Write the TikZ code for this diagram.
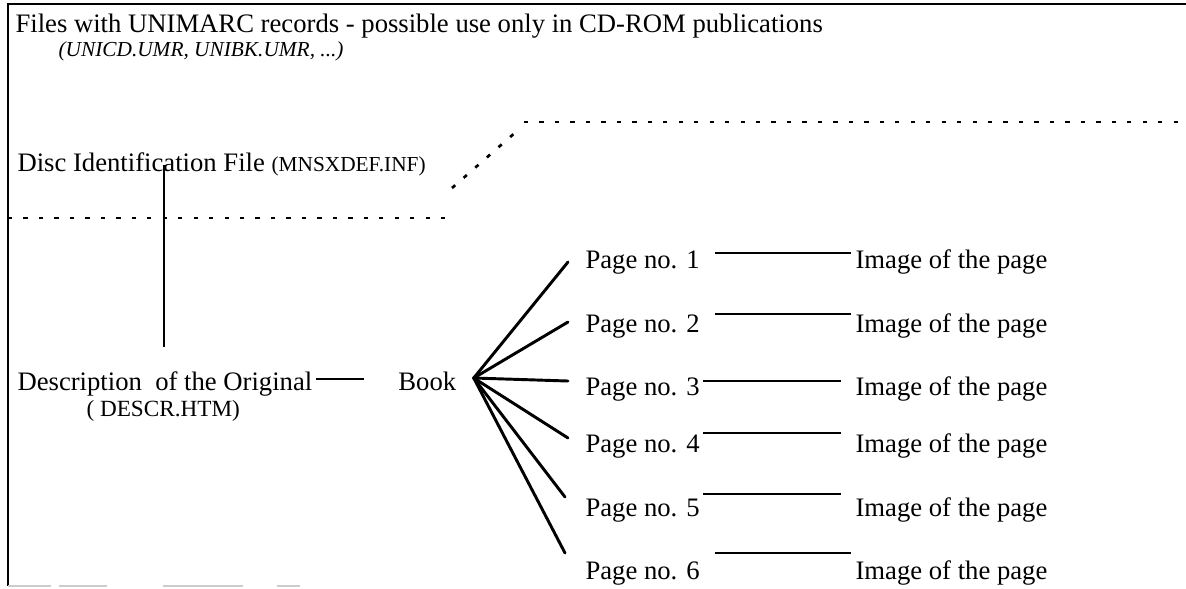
\documentclass[tikz,border=0pt]{standalone}
\usepackage{fontspec}
\setmainfont{Liberation Serif}
\usepackage{xcolor}
\usetikzlibrary{positioning}
\definecolor{ink}{RGB}{0,0,0}

\begin{document}
\begin{tikzpicture}[
    x=0.375pt, y=-0.375pt,
    txt/.style={inner sep=0pt, anchor=base west, text=ink,
                font=\fontsize{10}{12}\selectfont},
    note/.style={inner sep=0pt, anchor=base west, text=ink,
                 font=\fontsize{8}{9.6}\selectfont},
    frame/.style={draw=ink, line width=0.6pt},
    dots/.style={draw=ink, line width=1pt, dash pattern=on 1.6pt off 4.2pt},
    fan/.style={draw=ink, line width=1.1pt, line cap=round},
    link/.style={draw=ink, line width=0.8pt},
    thin/.style={draw=ink, line width=0.5pt}
  ]
    \useasboundingbox (0,0) rectangle (1186,588);
    \draw[frame] (1186,4) -- (8,4) -- (8,586);
    \draw[frame, draw=ink!20, dash pattern=on 16pt off 3pt on 18pt off 21pt on 30pt off 13pt on 11pt off 60pt]
      (8,586) -- (300,586);

    \node[txt] (files) at (15,32) {Files with UNIMARC records - possible use only in CD-ROM publications};
    \node[note, font=\fontsize{8}{9.6}\selectfont\itshape] (umr) at (58,56) {(UNICD.UMR, UNIBK.UMR, ...)};
    \node[txt] (disc) at (17,171) {Disc Identification File {\fontsize{8}{9.6}\selectfont(MNSXDEF.INF)}};
    \node[txt] (desc) at (17,390) {Description\ \ of the Original};
    \node[note, font=\fontsize{8.7}{10.4}\selectfont] (htm) at (86,416) {( DESCR.HTM)};
    \node[txt, base right=31.9pt of desc] (book) {Book};

    \draw[dots] (8,218) -- (448,218);
    \draw[dots] (452,188) -- (517,131);
    \draw[dots] (524,122) -- (1178,122);

    \node[txt] (p1) at (585,268) {Page no. 1};
    \node[txt] (p2) at (585,332) {Page no. 2};
    \node[txt] (p3) at (585,395) {Page no. 3};
    \node[txt] (p4) at (585,452) {Page no. 4};
    \node[txt] (p5) at (585,516) {Page no. 5};
    \node[txt] (p6) at (585,579) {Page no. 6};

    \node[txt, base right=58.1pt of p1] (i1) {Image of the page};
    \node[txt, base right=58.1pt of p2] (i2) {Image of the page};
    \node[txt, base right=58.1pt of p3] (i3) {Image of the page};
    \node[txt, base right=58.1pt of p4] (i4) {Image of the page};
    \node[txt, base right=58.1pt of p5] (i5) {Image of the page};
    \node[txt, base right=58.1pt of p6] (i6) {Image of the page};

    \draw[thin] ([shift={(147,-6)}]disc.base west) -- ([shift={(147,-43)}]desc.base west);
    \draw[thin] ([shift={(3,-11)}]desc.base east) -- ([shift={(-34,-11)}]book.base west);

    \coordinate (hub) at ([shift={(17,-12)}]book.base east);
    \draw[fan] (hub) -- ([shift={(-17,-6)}]p1.base west);
    \draw[fan] (hub) -- ([shift={(-17,-10)}]p2.base west);
    \draw[fan] (hub) -- ([shift={(-17,-14)}]p3.base west);
    \draw[fan] (hub) -- ([shift={(-17,-14)}]p4.base west);
    \draw[fan] (hub) -- ([shift={(-20,-19)}]p5.base west);
    \draw[fan] (hub) -- ([shift={(-20,-26)}]p6.base west);

    \draw[link] ([shift={(15,-15)}]p1.base east) -- ([shift={(-4,-15)}]i1.base west);
    \draw[link] ([shift={(15,-18)}]p2.base east) -- ([shift={(-4,-18)}]i2.base west);
    \draw[link] ([shift={(3,-14)}]p3.base east) -- ([shift={(-14,-14)}]i3.base west);
    \draw[link] ([shift={(3,-19)}]p4.base east) -- ([shift={(-14,-19)}]i4.base west);
    \draw[link] ([shift={(3,-22)}]p5.base east) -- ([shift={(-14,-22)}]i5.base west);
    \draw[link] ([shift={(15,-26)}]p6.base east) -- ([shift={(-4,-26)}]i6.base west);
  \end{tikzpicture}
\end{document}
